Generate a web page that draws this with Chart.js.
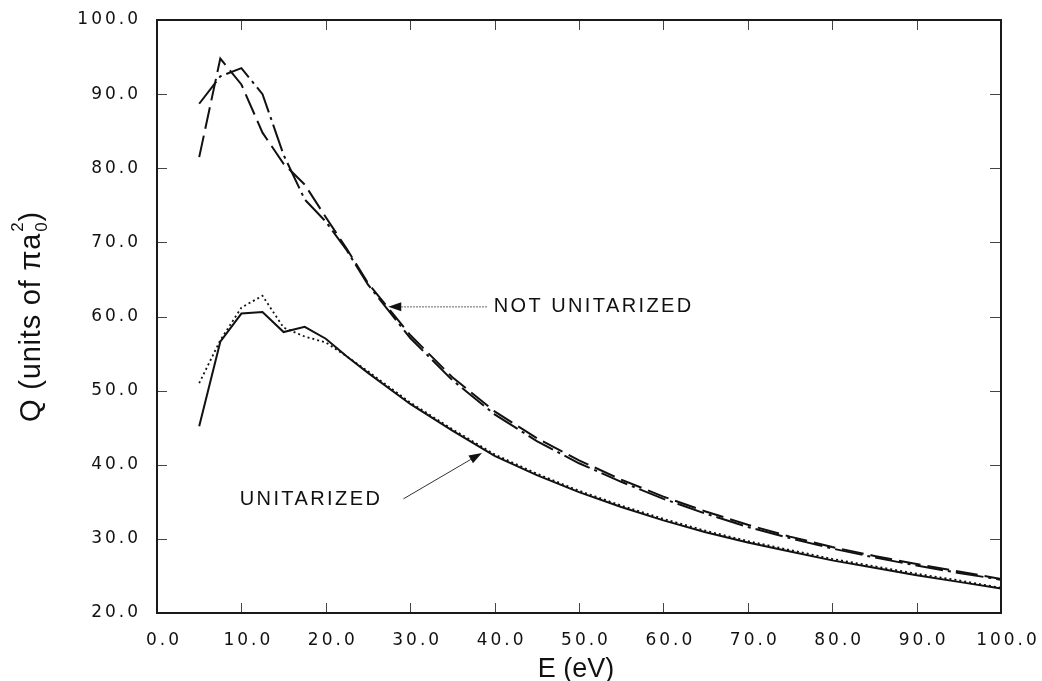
<!DOCTYPE html>
<html>
<head>
<meta charset="utf-8">
<script src="https://cdn.jsdelivr.net/npm/chart.js@4.4.1/dist/chart.umd.min.js"></script>
<style>
  html, body { margin: 0; padding: 0; background: #fff; }
  #wrap { width: 1042px; height: 681px; }
</style>
</head>
<body>
<div id="wrap"><canvas id="crossSection" width="1042" height="681"></canvas></div>
<script>
// incident energies (eV)
var energies = [5, 7.5, 10, 12.5, 15, 17.5, 20, 22.5, 25, 30, 35, 40, 45, 50, 55, 60, 65, 70, 75, 80, 85, 90, 95, 100];

// not unitarized, dash-dot curve
var notUnitA = [88.7, 92.4, 93.5, 90.0, 81.8, 75.8, 72.8, 68.9, 64.3, 57.1, 51.4, 46.8, 43.2, 40.2, 37.7, 35.4, 33.4, 31.6, 30.1, 28.7, 27.5, 26.4, 25.4, 24.5];
// not unitarized, long dash curve
var notUnitB = [81.5, 94.8, 91.3, 84.8, 80.6, 77.8, 73.4, 69.1, 64.5, 57.5, 51.8, 47.2, 43.6, 40.6, 38.0, 35.7, 33.7, 31.9, 30.3, 28.9, 27.7, 26.6, 25.6, 24.6];
// unitarized, solid curve
var unitSolid = [45.2, 56.6, 60.4, 60.6, 57.9, 58.6, 57.0, 54.6, 52.4, 48.2, 44.6, 41.2, 38.6, 36.3, 34.3, 32.5, 30.9, 29.5, 28.3, 27.1, 26.1, 25.1, 24.2, 23.3];
// unitarized, dotted curve
var unitDotted = [51.0, 56.8, 61.2, 62.8, 58.5, 57.3, 56.5, 54.6, 52.6, 48.4, 44.8, 41.4, 38.8, 36.5, 34.5, 32.7, 31.1, 29.7, 28.5, 27.3, 26.3, 25.3, 24.4, 23.4];

// annotation anchors, in (E, Q) units
var notUnitLabel = { text: 'NOT UNITARIZED', x: 39.9, y: 61.3 };
var notUnitArrow = { from: [39.1, 61.3], to: [27.4, 61.3] };
var unitLabel = { text: 'UNITARIZED', x: 9.8, y: 35.3 };
var unitArrow = { from: [29.2, 35.4], to: [38.5, 41.6] };

function toPoints(ys) {
  return energies.map(function (e, i) { return { x: e, y: ys[i] }; });
}

function drawArrow(ctx, xs, ys, arr, dashed) {
  var x1 = xs.getPixelForValue(arr.from[0]), y1 = ys.getPixelForValue(arr.from[1]);
  var x2 = xs.getPixelForValue(arr.to[0]), y2 = ys.getPixelForValue(arr.to[1]);
  var ang = Math.atan2(y2 - y1, x2 - x1);
  var len = 13, half = 4.5;
  ctx.save();
  ctx.strokeStyle = dashed ? '#666' : '#333';
  ctx.lineWidth = 1;
  if (dashed) ctx.setLineDash([2, 1]);
  ctx.beginPath();
  ctx.moveTo(x1, y1);
  ctx.lineTo(x2 - Math.cos(ang) * len, y2 - Math.sin(ang) * len);
  ctx.stroke();
  ctx.setLineDash([]);
  ctx.fillStyle = '#111';
  ctx.beginPath();
  ctx.moveTo(x2, y2);
  ctx.lineTo(x2 - Math.cos(ang) * len - Math.sin(ang) * half, y2 - Math.sin(ang) * len + Math.cos(ang) * half);
  ctx.lineTo(x2 - Math.cos(ang) * len + Math.sin(ang) * half, y2 - Math.sin(ang) * len - Math.cos(ang) * half);
  ctx.closePath();
  ctx.fill();
  ctx.restore();
}

// box frame with inward ticks, axis titles and the two labels
var frameTicks = {
  id: 'frameTicks',
  beforeLayout: function (chart) { chart.ctx.letterSpacing = '3px'; },
  beforeDraw: function (chart) { chart.ctx.letterSpacing = '3px'; },
  afterDraw: function (chart) {
    var ctx = chart.ctx, a = chart.chartArea;
    var xs = chart.scales.x, ys = chart.scales.y;
    ctx.save();
    ctx.letterSpacing = '0px';
    ctx.strokeStyle = '#444';
    ctx.lineWidth = 1;
    ctx.beginPath();
    xs.ticks.forEach(function (t) {
      if (t.value <= xs.min || t.value >= xs.max) return;
      var px = Math.round(xs.getPixelForValue(t.value)) + 0.5;
      ctx.moveTo(px, a.bottom); ctx.lineTo(px, a.bottom - 10);
      ctx.moveTo(px, a.top); ctx.lineTo(px, a.top + 10);
    });
    ys.ticks.forEach(function (t) {
      if (t.value <= ys.min || t.value >= ys.max) return;
      var py = Math.round(ys.getPixelForValue(t.value)) + 0.5;
      ctx.moveTo(a.left, py); ctx.lineTo(a.left + 10, py);
      ctx.moveTo(a.right, py); ctx.lineTo(a.right - 11, py);
    });
    ctx.stroke();

    ctx.strokeStyle = '#1a1a1a';
    ctx.lineWidth = 2;
    ctx.strokeRect(a.left, a.top, a.right - a.left, a.bottom - a.top);

    // x title
    ctx.fillStyle = '#111';
    ctx.font = '27px "Liberation Sans", Arial, sans-serif';
    ctx.textAlign = 'center';
    ctx.textBaseline = 'alphabetic';
    ctx.fillText('E (eV)', (a.left + a.right) / 2 - 3, 677);

    // y title with stacked sub/superscript
    var big = '29px "Liberation Sans", Arial, sans-serif';
    var small = '17px "Liberation Sans", Arial, sans-serif';
    var head = 'Q (units of \u03c0a', tail = ')';
    ctx.letterSpacing = '0.8px';
    ctx.font = big;
    var wHead = ctx.measureText(head).width, wTail = ctx.measureText(tail).width;
    ctx.font = small;
    var wSmall = Math.max(ctx.measureText('2').width, ctx.measureText('0').width) + 1;
    var total = wHead + wSmall + wTail;
    ctx.translate(40, (a.top + a.bottom) / 2);
    ctx.rotate(-Math.PI / 2);
    ctx.textAlign = 'left';
    var u = -total / 2;
    ctx.font = big;
    ctx.fillText(head, u, 0);
    ctx.font = small;
    ctx.fillText('2', u + wHead + 1, -17);
    ctx.fillText('0', u + wHead + 1, 7);
    ctx.font = big;
    ctx.fillText(tail, u + wHead + wSmall, 0);
    ctx.restore();

    // labels
    ctx.save();
    ctx.fillStyle = '#111';
    ctx.font = '20px "Liberation Sans", Arial, sans-serif';
    ctx.letterSpacing = '2.4px';
    ctx.textAlign = 'left';
    ctx.textBaseline = 'middle';
    ctx.fillText(notUnitLabel.text, xs.getPixelForValue(notUnitLabel.x), ys.getPixelForValue(notUnitLabel.y));
    ctx.fillText(unitLabel.text, xs.getPixelForValue(unitLabel.x), ys.getPixelForValue(unitLabel.y));
    ctx.restore();

    drawArrow(ctx, xs, ys, notUnitArrow, true);
    drawArrow(ctx, xs, ys, unitArrow, false);
  }
};

var tickFont = { family: '"DejaVu Sans", Verdana, sans-serif', size: 17 };

new Chart(document.getElementById('crossSection'), {
  type: 'line',
  data: {
    datasets: [
      { data: toPoints(notUnitA), borderColor: '#111', borderWidth: 2, borderDash: [28, 5, 3, 5] },
      { data: toPoints(notUnitB), borderColor: '#111', borderWidth: 2, borderDash: [22, 7] },
      { data: toPoints(unitSolid), borderColor: '#111', borderWidth: 2 },
      { data: toPoints(unitDotted), borderColor: '#111', borderWidth: 1.8, borderDash: [2, 3] }
    ]
  },
  options: {
    responsive: false,
    animation: false,
    devicePixelRatio: 1,
    layout: { padding: { top: 20, right: 41, left: 0, bottom: 0 } },
    elements: { point: { radius: 0 }, line: { tension: 0 } },
    plugins: { legend: { display: false }, tooltip: { enabled: false } },
    scales: {
      x: {
        type: 'linear', min: 0, max: 100,
        grid: { display: false, drawTicks: false },
        border: { display: false },
        ticks: {
          stepSize: 10, autoSkip: false, maxRotation: 0,
          color: '#111', font: tickFont, padding: 17, labelOffset: 7,
          callback: function (v) { return v.toFixed(1); }
        },
        afterFit: function (s) { s.height = 68; s.paddingLeft = 0; s.paddingRight = 0; }
      },
      y: {
        min: 20, max: 100,
        grid: { display: false, drawTicks: false },
        border: { display: false },
        ticks: {
          stepSize: 10, color: '#111', font: tickFont, padding: 16,
          callback: function (v) { return v.toFixed(1); }
        },
        afterFit: function (s) { s.width = 157; s.paddingTop = 0; s.paddingBottom = 0; }
      }
    }
  },
  plugins: [frameTicks]
});
</script>
</body>
</html>
